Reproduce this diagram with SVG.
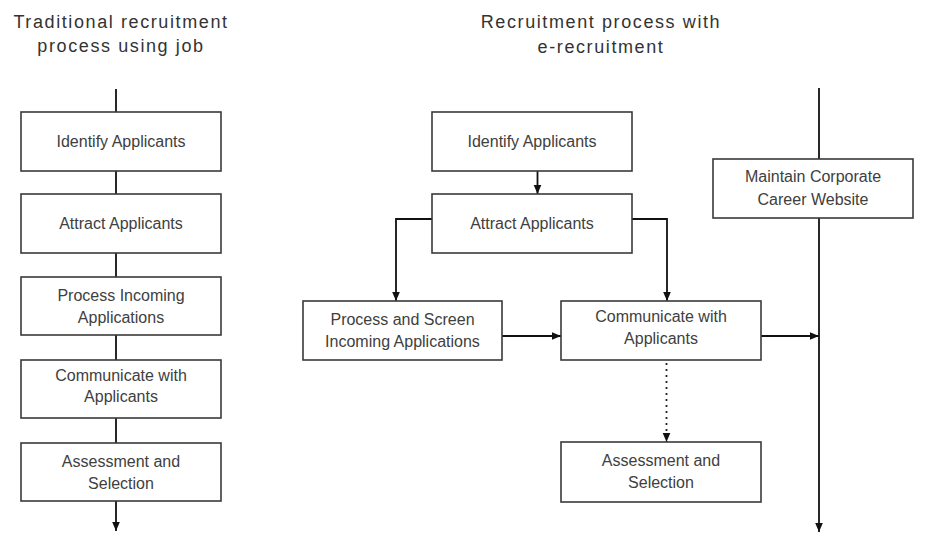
<svg xmlns="http://www.w3.org/2000/svg" width="926" height="533" viewBox="0 0 926 533">
<style>
  .box { fill: #ffffff; stroke: #3a3a3a; stroke-width: 1.6; }
  .lbl { font-family: "Liberation Sans", Arial, sans-serif; font-size: 16px; fill: #404040; text-anchor: middle; }
  .title { font-family: "Liberation Sans", Arial, sans-serif; font-size: 18px; fill: #333333; text-anchor: middle; letter-spacing: 1.6px; }
  .ln { fill: none; stroke: #111111; stroke-width: 1.8; }
  .dot { fill: none; stroke: #222222; stroke-width: 1.8; stroke-dasharray: 2 4; }
</style>
<defs>
  <marker id="arr" markerWidth="11" markerHeight="10" refX="10" refY="5" orient="auto" markerUnits="userSpaceOnUse">
    <path d="M1,1.2 L10,5 L1,8.8 Z" fill="#111111"/>
  </marker>
</defs>
<rect width="926" height="533" fill="#ffffff"/>

<g id="titles">
  <text class="title" x="121" y="28">Traditional recruitment</text>
  <text class="title" x="121" y="52">process using job</text>
  <text class="title" x="601" y="28">Recruitment process with</text>
  <text class="title" x="601" y="53">e-recruitment</text>
</g>

<g id="connectors">
  <line class="ln" x1="116" y1="89" x2="116" y2="112"/>
  <line class="ln" x1="116" y1="171" x2="116" y2="194"/>
  <line class="ln" x1="116" y1="253" x2="116" y2="277"/>
  <line class="ln" x1="116" y1="335" x2="116" y2="360"/>
  <line class="ln" x1="116" y1="418" x2="116" y2="443"/>
  <line class="ln" x1="116" y1="501" x2="116" y2="531" marker-end="url(#arr)"/>
  <line class="ln" x1="537.5" y1="171" x2="537.5" y2="194" marker-end="url(#arr)"/>
  <polyline class="ln" points="432,219 396,219 396,301" marker-end="url(#arr)"/>
  <polyline class="ln" points="632,219 667,219 667,301" marker-end="url(#arr)"/>
  <line class="ln" x1="502" y1="336" x2="561" y2="336" marker-end="url(#arr)"/>
  <line class="ln" x1="761" y1="336" x2="819" y2="336" marker-end="url(#arr)"/>
  <line class="dot" x1="666.5" y1="363" x2="666.5" y2="442" marker-end="url(#arr)"/>
  <line class="ln" x1="819" y1="88" x2="819" y2="159"/>
  <line class="ln" x1="819" y1="218" x2="819" y2="532" marker-end="url(#arr)"/>
</g>

<g id="L-identify">
  <rect class="box" x="21" y="112" width="200" height="59"/>
  <text class="lbl" x="121" y="147">Identify Applicants</text>
</g>
<g id="L-attract">
  <rect class="box" x="21" y="194" width="200" height="59"/>
  <text class="lbl" x="121" y="229">Attract Applicants</text>
</g>
<g id="L-process">
  <rect class="box" x="21" y="277" width="200" height="58"/>
  <text class="lbl" x="121" y="301">Process Incoming</text>
  <text class="lbl" x="121" y="323">Applications</text>
</g>
<g id="L-communicate">
  <rect class="box" x="21" y="360" width="200" height="58"/>
  <text class="lbl" x="121" y="381">Communicate with</text>
  <text class="lbl" x="121" y="402">Applicants</text>
</g>
<g id="L-assessment">
  <rect class="box" x="21" y="443" width="200" height="58"/>
  <text class="lbl" x="121" y="467">Assessment and</text>
  <text class="lbl" x="121" y="489">Selection</text>
</g>

<g id="R-identify">
  <rect class="box" x="432" y="112" width="200" height="59"/>
  <text class="lbl" x="532" y="147">Identify Applicants</text>
</g>
<g id="R-attract">
  <rect class="box" x="432" y="194" width="200" height="59"/>
  <text class="lbl" x="532" y="229">Attract Applicants</text>
</g>
<g id="R-process">
  <rect class="box" x="303" y="301" width="199" height="59"/>
  <text class="lbl" x="402.5" y="325">Process and Screen</text>
  <text class="lbl" x="402.5" y="347">Incoming Applications</text>
</g>
<g id="R-communicate">
  <rect class="box" x="561" y="301" width="200" height="59"/>
  <text class="lbl" x="661" y="322">Communicate with</text>
  <text class="lbl" x="661" y="344">Applicants</text>
</g>
<g id="R-assessment">
  <rect class="box" x="561" y="442" width="200" height="60"/>
  <text class="lbl" x="661" y="466">Assessment and</text>
  <text class="lbl" x="661" y="488">Selection</text>
</g>
<g id="R-maintain">
  <rect class="box" x="713" y="159" width="200" height="59"/>
  <text class="lbl" x="813" y="182">Maintain Corporate</text>
  <text class="lbl" x="813" y="205">Career Website</text>
</g>
</svg>
